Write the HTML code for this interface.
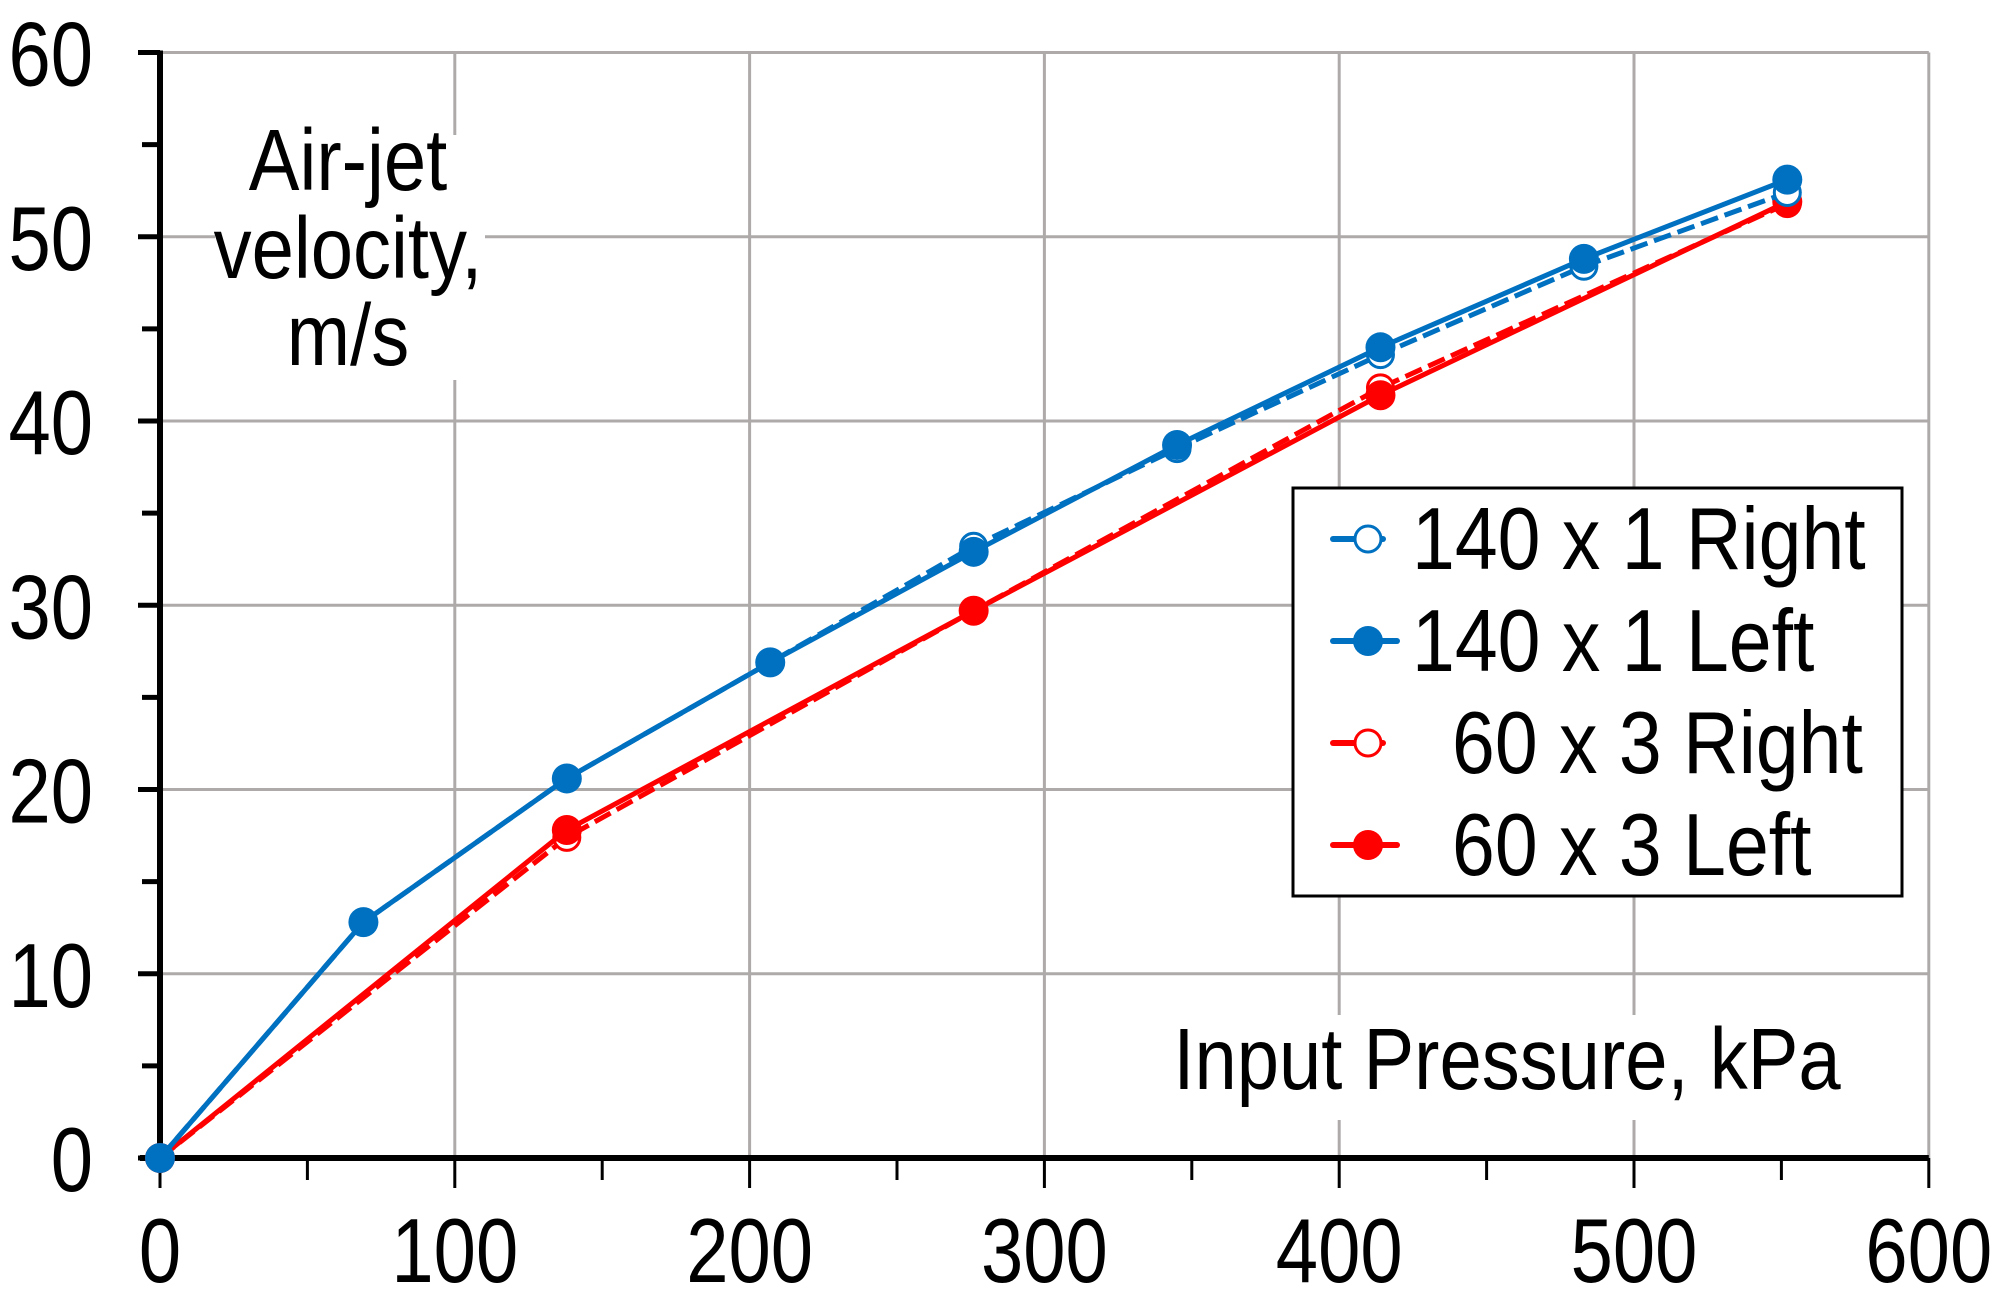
<!DOCTYPE html>
<html><head><meta charset="utf-8"><style>
html,body{margin:0;padding:0;background:#fff;}
svg{display:block;font-family:"Liberation Sans",Arial,sans-serif;}
</style></head><body>
<svg id="s" width="2006" height="1291" viewBox="0 0 2006 1291" xmlns="http://www.w3.org/2000/svg">
<rect width="2006" height="1291" fill="#fff"/>
<g id="grid" stroke="#AEAAAA" stroke-width="3"></g>
<rect x="215" y="135" width="270" height="245" fill="#fff"/>
<rect x="1160" y="1015" width="700" height="105" fill="#fff"/>
<g id="axes" stroke="#000"></g>
<g id="series"></g>
<g id="titles" font-size="76" fill="#000" text-anchor="middle"></g>
<g id="labels" font-size="76" fill="#000"></g>
<rect x="1293" y="488" width="609" height="408" fill="#fff" stroke="#000" stroke-width="3"/>
<g id="legend" font-size="77" fill="#000"></g>
</svg>
<script>
var NS="http://www.w3.org/2000/svg";
function X(v){return 160+v*2.948;} function Y(v){return 1158-v*18.425;}
function el(p,t,a,txt){var e=document.createElementNS(NS,t);for(var k in a)e.setAttribute(k,a[k]);if(txt!==undefined)e.textContent=txt;document.getElementById(p).appendChild(e);return e;}
function tx(p,x,y,s,sy,anchor){var a={transform:'translate('+x+','+y+') scale(1,'+sy+')'};if(anchor)a['text-anchor']=anchor;el(p,'text',a,s);}
for(var i=1;i<=6;i++){el('grid','line',{x1:X(i*100),x2:X(i*100),y1:Y(0),y2:Y(60)});}
for(var j=1;j<=6;j++){el('grid','line',{x1:X(0),x2:X(600),y1:Y(j*10),y2:Y(j*10)});}
el('axes','line',{x1:X(0),x2:X(0),y1:Y(60)-2,y2:Y(0)+2,'stroke-width':6});
el('axes','line',{x1:X(0)-20,x2:X(600),y1:Y(0),y2:Y(0),'stroke-width':6});
for(var k=0;k<=12;k++){var v=k*5;el('axes','line',{x1:X(0)-(k%2?18:22),x2:X(0),y1:Y(v),y2:Y(v),'stroke-width':5});}
for(var k=0;k<=12;k++){var v=k*50;el('axes','line',{x1:X(v),x2:X(v),y1:Y(0),y2:Y(0)+(k%2?22:30),'stroke-width':3});}
for(var j=0;j<=6;j++){tx('labels',93,Y(j*10)+33,String(j*10),1.2,'end');}
for(var i=0;i<=6;i++){tx('labels',X(i*100),1282,String(i*100),1.2,'middle');}
tx('titles',348,190,'Air-jet',1.15);
tx('titles',348,278,'velocity,',1.15);
tx('titles',348,365,'m/s',1.15);
tx('titles',1507,1089,'Input Pressure, kPa',1.15);
var S=[
 {c:'#FF0000',d:true,f:false,p:[[0,0],[138,17.4],[276,29.7],[414,41.8],[552,51.8]]},
 {c:'#FF0000',d:false,f:true,p:[[0,0],[138,17.8],[276,29.7],[414,41.4],[552,51.9]]},
 {c:'#0070C0',d:true,f:false,p:[[0,0],[69,12.8],[138,20.6],[207,26.9],[276,33.2],[345,38.5],[414,43.6],[483,48.4],[552,52.4]]},
 {c:'#0070C0',d:false,f:true,p:[[0,0],[69,12.8],[138,20.6],[207,26.9],[276,32.9],[345,38.7],[414,44.0],[483,48.8],[552,53.1]]}
];
S.forEach(function(s){
 var pts=s.p.map(function(q){return X(q[0])+','+Y(q[1]);}).join(' ');
 var a={points:pts,fill:'none',stroke:s.c,'stroke-width':5,'stroke-linejoin':'round'};
 if(s.d)a['stroke-dasharray']='18,7';
 el('series','polyline',a);
 s.p.forEach(function(q){
  el('series','circle',s.f?{cx:X(q[0]),cy:Y(q[1]),r:15,fill:s.c}:{cx:X(q[0]),cy:Y(q[1]),r:13,fill:'#fff',stroke:s.c,'stroke-width':3});
 });
});
var L=[['#0070C0',false,'140 x 1 Right',1412],['#0070C0',true,'140 x 1 Left',1412],['#FF0000',false,'60 x 3 Right',1452],['#FF0000',true,'60 x 3 Left',1452]];
L.forEach(function(l,i){
 var cy=539+i*102;
 el('legend','line',{x1:1333,x2:l[1]?1397:1383,y1:cy,y2:cy,stroke:l[0],'stroke-width':6,'stroke-linecap':'round'});
 if(l[1])el('legend','circle',{cx:1368,cy:cy,r:15,fill:l[0]});
 else el('legend','circle',{cx:1368,cy:cy,r:13,fill:'#fff',stroke:l[0],'stroke-width':3});
 tx('legend',l[3],cy+30,l[2],1.15);
});
</script>
</body></html>
